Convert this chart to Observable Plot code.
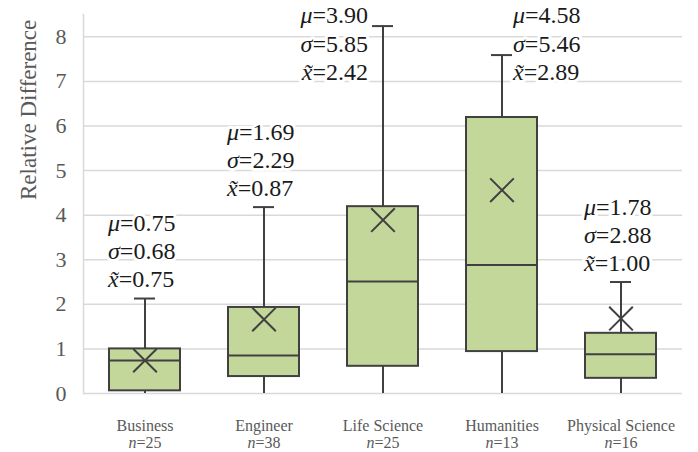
<!DOCTYPE html>
<html><head><meta charset="utf-8">
<script src="https://cdn.jsdelivr.net/npm/d3@7"></script>
<script src="https://cdn.jsdelivr.net/npm/@observablehq/plot@0.6"></script>
<style>
body{margin:0;background:#fff;}
#chart svg{display:block;background:#fff;}
#chart svg text{font-family:"Liberation Serif","Times New Roman",serif;}
</style></head><body><div id="chart"></div>
<script>
// Categories and sample sizes
const categories = ["Business", "Engineer", "Life Science", "Humanities", "Physical Science"];
const counts = [25, 38, 25, 13, 16];
// Stated statistics (annotation text)
const means = [0.75, 1.69, 3.90, 4.58, 1.78];
const sds = [0.68, 2.29, 5.85, 5.46, 2.88];
const medians = [0.75, 0.87, 2.42, 2.89, 1.00];
// Box-plot geometry
const q1 = [0.06, 0.38, 0.61, 0.94, 0.34];
const boxMedian = [0.74, 0.85, 2.51, 2.88, 0.88];
const q3 = [1.00, 1.93, 4.19, 6.19, 1.35];
const whiskerLow = [0, 0, 0, 0, 0];
const whiskerHigh = [2.13, 4.18, 8.24, 7.59, 2.50];
const meanMarker = [0.74, 1.66, 3.89, 4.56, 1.68];
const yTicks = [0, 1, 2, 3, 4, 5, 6, 7, 8];
const statSymbols = ["μ", "σ", "x\u0303"];

const data = categories.map((c, i) => ({
  category: c, n: counts[i], mean: means[i], sd: sds[i], median: medians[i],
  q1: q1[i], q3: q3[i], boxMedian: boxMedian[i],
  whiskerLow: whiskerLow[i], whiskerHigh: whiskerHigh[i], meanMarker: meanMarker[i]
}));
const statValues = [d => d.mean, d => d.sd, d => d.median];

// label placement: above whisker, or beside it when the whisker reaches the top
const besideLeft = ["Life Science"];
const besideRight = ["Humanities"];
const above = data.filter(d => !besideLeft.includes(d.category) && !besideRight.includes(d.category));
const left = data.filter(d => besideLeft.includes(d.category));
const right = data.filter(d => besideRight.includes(d.category));

const serif = "Liberation Serif, Times New Roman, serif";
const ink = "#404040";
const base = {fontSize: 24, fontFamily: serif, fontVariant: "normal", lineAnchor: "middle"};
const haloStyle = {...base, fill: "white", stroke: "white", strokeWidth: 6, strokeLinejoin: "round"};
const inkStyle = {...base, fill: "#1a1a1a"};
const haloMarks = [], statMarks = [];
for (let k = 0; k < 3; k++) {
  const txt = d => statSymbols[k] + "=" + statValues[k](d).toFixed(2);
  for (const [target, style] of [[haloMarks, haloStyle], [statMarks, inkStyle]]) {
    target.push(Plot.text(above, {x: "category", y: "whiskerHigh", text: txt, textAnchor: "start", dx: -37, dy: -19 - (2 - k) * 28, ...style}));
    target.push(Plot.text(left, {x: "category", frameAnchor: "top", text: txt, textAnchor: "end", dx: -15, dy: 1 + k * 28.5, ...style}));
    target.push(Plot.text(right, {x: "category", frameAnchor: "top", text: txt, textAnchor: "start", dx: 11, dy: 1 + k * 28.5, ...style}));
  }
}

const chart = Plot.plot({
  width: 698, height: 452,
  marginTop: 14, marginBottom: 59, marginLeft: 83, marginRight: 16,
  style: {fontFamily: serif, background: "white"},
  x: {domain: categories, padding: 0, axis: null},
  y: {domain: [0, 8.5], axis: null},
  marks: [
    Plot.ruleY(yTicks, {stroke: "#d9d9d9", strokeWidth: 1.5}),
    Plot.frame({anchor: "left", stroke: "#d9d9d9", strokeWidth: 1.5}),
    Plot.axisY(yTicks, {tickSize: 0, tickPadding: 17, fontSize: 22, fontFamily: serif, fontVariant: "normal", color: "#595959", label: null}),
    Plot.text(["Relative Difference"], {frameAnchor: "left", rotate: -90, dx: -55, dy: -4, fontSize: 23, fontFamily: serif, fill: "#595959"}),
    ...haloMarks,
    ...statMarks,
    Plot.ruleX(data, {x: "category", y1: "whiskerLow", y2: "whiskerHigh", stroke: ink, strokeWidth: 2}),
    Plot.tickY(data, {x: "category", y: "whiskerHigh", stroke: ink, strokeWidth: 2, insetLeft: 49, insetRight: 49}),
    Plot.barY(data, {x: "category", y1: "q1", y2: "q3", fill: "#c4d79b", stroke: ink, strokeWidth: 2, insetLeft: 24, insetRight: 24}),
    Plot.tickY(data, {x: "category", y: "boxMedian", stroke: ink, strokeWidth: 2, insetLeft: 24, insetRight: 24}),
    Plot.dot(data, {x: "category", y: "meanMarker", symbol: "times", r: 10.8, stroke: ink, strokeWidth: 2}),
    Plot.text(data, {x: "category", text: "category", frameAnchor: "bottom", lineAnchor: "bottom", dy: 37, fontSize: 16, fontFamily: serif, fill: "#595959"}),
    Plot.text(data, {x: "category", text: d => "n=" + d.n, frameAnchor: "bottom", lineAnchor: "bottom", dy: 54, fontSize: 16, fontFamily: serif, fontVariant: "normal", fill: "#595959"})
  ]
});

// italicise the leading math symbol of "sym=value" labels; pin the serif face
const NS = "http://www.w3.org/2000/svg";
chart.querySelectorAll("text").forEach(t => {
  t.style.fontFamily = '"Liberation Serif", "Times New Roman", serif';
  if (t.children.length) return;
  const s = t.textContent;
  const m = s.match(/^(μ|σ|x\u0303|n)=(.*)$/);
  if (!m) return;
  t.textContent = "";
  const a = document.createElementNS(NS, "tspan");
  a.setAttribute("font-style", "italic");
  a.textContent = m[1];
  t.appendChild(a);
  t.appendChild(document.createTextNode("=" + m[2]));
});

document.getElementById("chart").appendChild(chart);
</script></body></html>
